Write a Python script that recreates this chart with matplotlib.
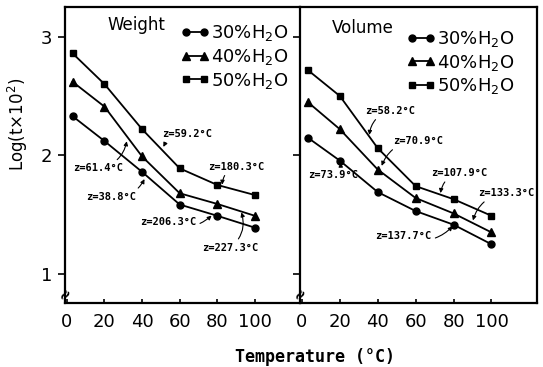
#!/usr/bin/env python3
# -*- encoding: utf-8 -*-

from matplotlib import pyplot as plt
from matplotlib import font_manager as fm
from matplotlib.lines import Line2D

# Sampling temperatures (deg C)
temps = [3, 20, 40, 60, 80, 100]

# Log(t x 10^2) for the weight-based measurement
weight_30 = [2.33, 2.12, 1.86, 1.585, 1.49, 1.39]
weight_40 = [2.62, 2.41, 1.99, 1.68, 1.59, 1.49]
weight_50 = [2.86, 2.60, 2.22, 1.89, 1.75, 1.665]

# Log(t x 10^2) for the volume-based measurement
volume_30 = [2.15, 1.955, 1.69, 1.53, 1.415, 1.25]
volume_40 = [2.45, 2.22, 1.88, 1.64, 1.51, 1.35]
volume_50 = [2.72, 2.50, 2.06, 1.74, 1.63, 1.49]

series_labels = ["30%H$_2$O", "40%H$_2$O", "50%H$_2$O"]
series_markers = ["o", "^", "s"]

# z-values: (label, point on the line, label position)
weight_z = [
    ("z=59.2°C", (51, 2.06), (63.7, 2.18)),
    ("z=61.4°C", (32, 2.13), (16.8, 1.89)),
    ("z=38.8°C", (41.6, 1.81), (23.7, 1.65)),
    ("z=180.3°C", (82.6, 1.74), (90, 1.905)),
    ("z=206.3°C", (77.5, 1.50), (53.7, 1.44)),
    ("z=227.3°C", (92.6, 1.53), (86.8, 1.22)),
]
volume_z = [
    ("z=58.2°C", (35.5, 2.16), (46.7, 2.375)),
    ("z=70.9°C", (41.8, 1.90), (61.5, 2.12)),
    ("z=73.9°C", (20.4, 1.95), (16.3, 1.835)),
    ("z=107.9°C", (73, 1.67), (83, 1.85)),
    ("z=133.3°C", (90, 1.44), (108, 1.68)),
    ("z=137.7°C", (80, 1.41), (53.4, 1.32)),
]

names = {f.name for f in fm.fontManager.ttflist}
narrow = "Liberation Sans Narrow" if "Liberation Sans Narrow" in names else "DejaVu Sans"


def draw_panel(ax, curves, notes, title, legend_anchor, title_pos):
    for values, marker in zip(curves, series_markers):
        ms = 6 if marker == "^" else 5
        ax.plot(temps, values, color="black", lw=1.3, marker=marker, ms=ms)

    for text, xy, xytext in notes:
        ax.annotate(
            text,
            xy=xy,
            xytext=xytext,
            ha="center",
            va="center",
            fontsize=7.5,
            family="DejaVu Sans Mono",
            fontweight="bold",
            arrowprops=dict(
                arrowstyle="-|>",
                lw=0.8,
                color="black",
                mutation_scale=6,
                connectionstyle="arc3,rad=0.35",
                shrinkA=1,
                shrinkB=1,
            ),
        )

    handles = [
        Line2D([], [], color="black", lw=1.3, marker=m, ms=6 if m == "^" else 5)
        for m in series_markers
    ]
    ax.legend(
        handles,
        series_labels,
        numpoints=2,
        loc="upper left",
        bbox_to_anchor=legend_anchor,
        frameon=False,
        fontsize=13,
        handlelength=1.6,
        handletextpad=0.1,
        labelspacing=0.2,
        borderpad=0,
        borderaxespad=0,
    )
    ax.text(*title_pos, title, transform=ax.transAxes, fontsize=12,
            ha="left", va="center")

    ax.set_xlim(-1, 124)
    ax.set_ylim(0.755, 3.25)
    ax.set_xticks([0, 20, 40, 60, 80, 100])
    ax.set_yticks([1, 2, 3])
    ax.tick_params(axis="x", direction="in", length=3, width=1.2, pad=7,
                   labelsize=13)
    ax.tick_params(axis="y", direction="out", length=5, width=1.2, pad=4,
                   labelsize=13)
    for label in ax.get_xticklabels() + ax.get_yticklabels():
        label.set_family(narrow)
    for spine in ax.spines.values():
        spine.set_linewidth(1.6)

    # axis break at the bottom of the y axis
    ax.text(0, 0.03, "≈", transform=ax.transAxes, ha="center", va="center",
            fontsize=11, fontweight="bold", rotation=60, clip_on=False)


def main():
    fig = plt.figure(figsize=(5.43, 3.67), dpi=100)
    bottom = 1 - 303 / 367
    height = (303 - 7) / 367
    ax_w = fig.add_axes([65 / 543, bottom, 235 / 543, height])
    ax_v = fig.add_axes([300 / 543, bottom, 237 / 543, height])

    draw_panel(ax_w, [weight_30, weight_40, weight_50], weight_z, "Weight",
               (0.49, 0.945), (0.18, 0.94))
    draw_panel(ax_v, [volume_30, volume_40, volume_50], volume_z, "Volume",
               (0.45, 0.925), (0.134, 0.93))

    ax_w.spines["right"].set_visible(False)
    ax_v.tick_params(axis="y", labelleft=False)

    fig.text(18 / 543, 1 - 124 / 367, "Log(t×10$^2$)", rotation=90,
             ha="center", va="center", fontsize=12)
    fig.text(315 / 543, 1 - 357 / 367, "Temperature (°C)", ha="center",
             va="center", fontsize=12, family="DejaVu Sans Mono",
             fontweight="bold")

    fig.savefig("out.png", dpi=100)
    plt.close(fig)


if __name__ == "__main__":
    main()
